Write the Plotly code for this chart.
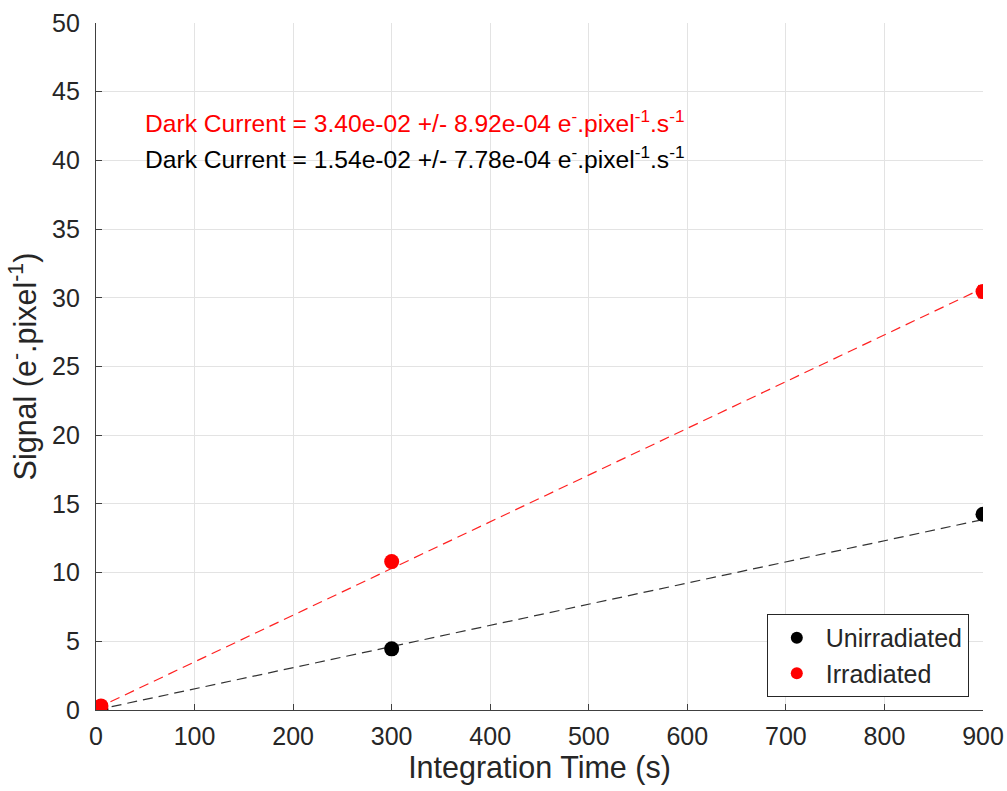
import numpy as np
import plotly.graph_objects as go

# Measured signal vs integration time
time_s = [5, 300, 900]
unirr_signal = [0.05, 4.45, 14.25]
unirr_err = [0.15, 0.2, 0.25]
irr_signal = [0.3, 10.8, 30.45]
irr_err = [0.15, 0.3, 0.45]

# Linear fit results (slope = dark current)
unirr_slope, unirr_slope_err, unirr_icpt = 1.54e-02, 7.78e-04, 0.0
irr_slope, irr_slope_err, irr_icpt = 3.40e-02, 8.92e-04, 0.1

fit_t = np.array([0, 900])

FONT = "Liberation Sans, Arial, sans-serif"
TXT = "#262626"

fig = go.Figure()

fig.add_trace(go.Scatter(
    x=fit_t, y=unirr_slope * fit_t + unirr_icpt, mode="lines",
    line=dict(color="#333333", width=1.2, dash="10px,6px"), showlegend=False, hoverinfo="skip"))
fig.add_trace(go.Scatter(
    x=fit_t, y=irr_slope * fit_t + irr_icpt, mode="lines",
    line=dict(color="#ff2020", width=1.2, dash="10px,6px"), showlegend=False, hoverinfo="skip"))

fig.add_trace(go.Scatter(
    x=time_s, y=unirr_signal, mode="markers", name="Unirradiated",
    marker=dict(color="black", size=15),
    error_y=dict(type="data", array=unirr_err, color="black", thickness=1, width=5)))
fig.add_trace(go.Scatter(
    x=time_s, y=irr_signal, mode="markers", name="Irradiated",
    marker=dict(color="#ff0000", size=15),
    error_y=dict(type="data", array=irr_err, color="#ff0000", thickness=1, width=5)))


def dc_text(slope, err):
    return (f"Dark Current = {slope:.2e} +/- {err:.2e} "
            "e<sup>-</sup>.pixel<sup>-1</sup>.s<sup>-1</sup>")


fig.add_annotation(x=48, y=42.8, xref="x", yref="y", xanchor="left", yanchor="middle",
                   text=dc_text(irr_slope, irr_slope_err), showarrow=False,
                   font=dict(family=FONT, size=24.6, color="#ff0000"))
fig.add_annotation(x=48, y=40.2, xref="x", yref="y", xanchor="left", yanchor="middle",
                   text=dc_text(unirr_slope, unirr_slope_err), showarrow=False,
                   font=dict(family=FONT, size=24.6, color="black"))

axis_common = dict(
    showgrid=True, gridcolor="#e3e3e3", gridwidth=1,
    showline=True, linecolor="#404040", linewidth=1.2,
    ticks="inside", ticklen=6, tickcolor="#404040",
    tickfont=dict(family=FONT, size=25, color=TXT),
    zeroline=False, mirror=False, automargin=False,
)

fig.update_layout(
    width=1007, height=791,
    margin=dict(l=96, r=24, t=23, b=81),
    plot_bgcolor="white", paper_bgcolor="white",
    font=dict(family=FONT, color=TXT),
    xaxis=dict(range=[0, 900], tickmode="linear", tick0=0, dtick=100,
               ticklabelstandoff=4,
               title=dict(text="Integration Time (s)", font=dict(family=FONT, size=30.5, color=TXT),
                          standoff=0),
               **axis_common),
    yaxis=dict(range=[0, 50], tickmode="linear", tick0=0, dtick=5,
               ticklabelstandoff=10,
               title=dict(text="Signal (e<sup>-</sup>.pixel<sup>-1</sup>)",
                          font=dict(family=FONT, size=30.5, color=TXT), standoff=6),
               **axis_common),
    legend=dict(x=0.984, y=0.019, xanchor="right", yanchor="bottom",
                bgcolor="white", bordercolor=TXT, borderwidth=1,
                font=dict(family=FONT, size=25, color=TXT),
                itemsizing="constant", itemwidth=48, tracegroupgap=0),
)

fig.write_html("out.html")
